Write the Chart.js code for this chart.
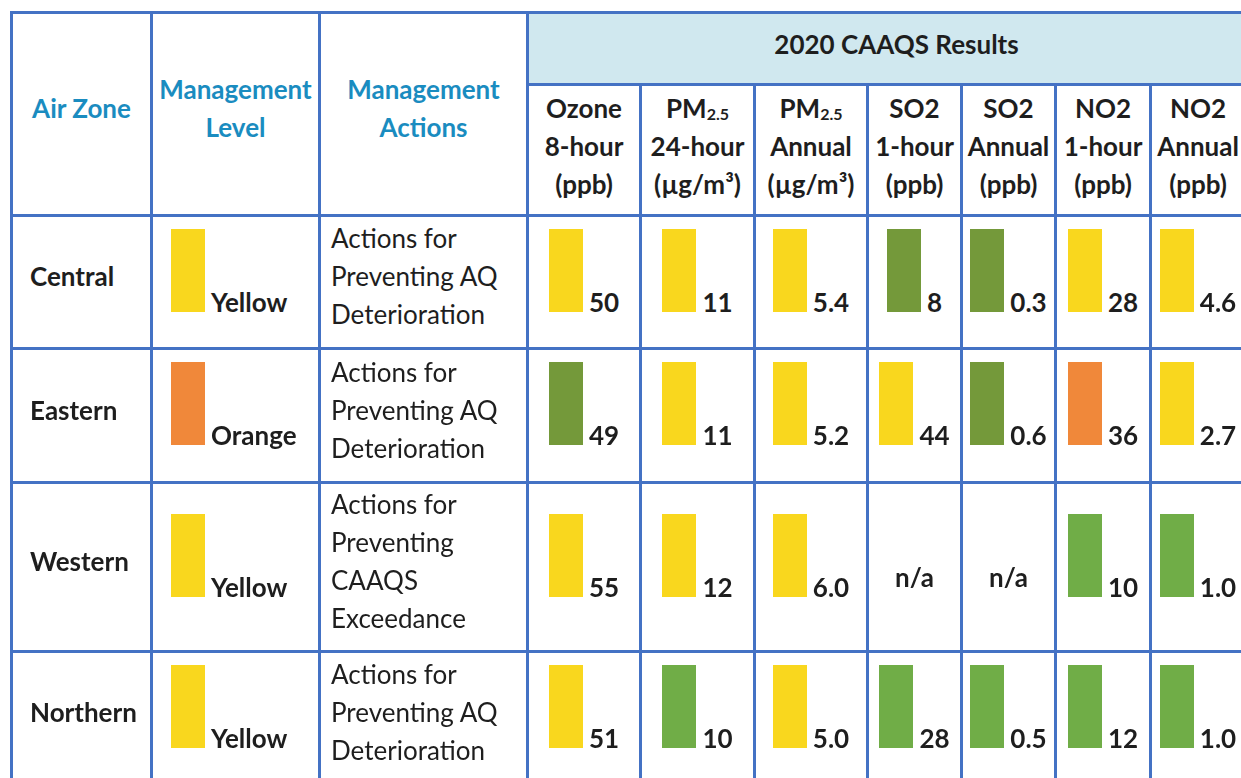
<!DOCTYPE html>
<html>
<head>
<meta charset="utf-8">
<script src="https://cdn.jsdelivr.net/npm/chart.js@4.4.0/dist/chart.umd.min.js"></script>
<style>
html, body { margin: 0; padding: 0; background: #fff; width: 1241px; height: 778px; overflow: hidden; }
table {
    position: absolute; left: 10px; top: 11px;
    border-collapse: collapse; table-layout: fixed;
    font-family: Lato, 'Open Sans', sans-serif; font-size: 26px; color: #1e1e1e;
}
td, th { border: 3px solid #4472c4; padding: 0; }
th { font-weight: bold; line-height: 38px; }
th.teal { color: #1a8cc0; white-space: nowrap; padding-bottom: 12px; }
th.banner { background: #d0e8ef; padding: 0 0 10px 20px; }
th.pol { padding-bottom: 8px; white-space: nowrap; }
.sub { font-size: 16px; position: relative; top: 2px; line-height: 0; }
td.zone { font-weight: bold; padding: 0 0 12px 17px; white-space: nowrap; }
td.action { line-height: 38px; padding: 0 0 12px 10px; }
td.level { padding: 0 0 18px 18px; }
td.val { padding-bottom: 18px; }
.cell { display: flex; align-items: baseline; font-weight: bold; white-space: nowrap; }
td.val .cell { justify-content: center; }
.cell span { margin-left: 6px; }
.na { text-align: center; font-weight: bold; padding-top: 20px; }
canvas { display: block; }
</style>
</head>
<body>
<table id="tbl"></table>
<script>
// Table content
const zones = ['Central', 'Eastern', 'Western', 'Northern'];
const levels = ['Yellow', 'Orange', 'Yellow', 'Yellow'];
const actions = [
    'Actions for<br>Preventing AQ<br>Deterioration',
    'Actions for<br>Preventing AQ<br>Deterioration',
    'Actions for<br>Preventing<br>CAAQS<br>Exceedance',
    'Actions for<br>Preventing AQ<br>Deterioration'
];
const bannerTitle = '2020 CAAQS Results';
const polNames = ['Ozone', 'PM<span class="sub">2.5</span>', 'PM<span class="sub">2.5</span>', 'SO2', 'SO2', 'NO2', 'NO2'];
const polPeriods = ['8-hour', '24-hour', 'Annual', '1-hour', 'Annual', '1-hour', 'Annual'];
const polUnits = ['(ppb)', '(µg/m³)', '(µg/m³)', '(ppb)', '(ppb)', '(ppb)', '(ppb)'];

// Results per pollutant (rows follow zones)
const ozone8h = ['50', '49', '55', '51'];
const pm24h = ['11', '11', '12', '10'];
const pmAnnual = ['5.4', '5.2', '6.0', '5.0'];
const so21h = ['8', '44', null, '28'];
const so2Annual = ['0.3', '0.6', null, '0.5'];
const no21h = ['28', '36', '10', '12'];
const no2Annual = ['4.6', '2.7', '1.0', '1.0'];

// Status colour for each result
const ozone8hLvl = ['yellow', 'darkgreen', 'yellow', 'yellow'];
const pm24hLvl = ['yellow', 'yellow', 'yellow', 'green'];
const pmAnnualLvl = ['yellow', 'yellow', 'yellow', 'yellow'];
const so21hLvl = ['darkgreen', 'yellow', null, 'green'];
const so2AnnualLvl = ['darkgreen', 'darkgreen', null, 'green'];
const no21hLvl = ['yellow', 'orange', 'green', 'green'];
const no2AnnualLvl = ['yellow', 'yellow', 'green', 'green'];

const levelColors = {
    yellow: '#f9d71e',
    orange: '#f0883a',
    green: '#70ad47',
    darkgreen: '#74993a'
};

// Layout
const colWidths = [140, 168, 208, 113, 114, 113, 94, 94, 95, 95];
const rowHeights = [133, 134, 169, 133];
const blockW = 34, blockH = 83;

const results = [ozone8h, pm24h, pmAnnual, so21h, so2Annual, no21h, no2Annual];
const resultLvls = [ozone8hLvl, pm24hLvl, pmAnnualLvl, so21hLvl, so2AnnualLvl, no21hLvl, no2AnnualLvl];

const tbl = document.getElementById('tbl');
tbl.style.width = colWidths.reduce((a, b) => a + b, 0) + 'px';
let html = '<colgroup>' + colWidths.map(w => `<col style="width:${w}px">`).join('') + '</colgroup>';
html += '<tr style="height:72px">' +
    '<th class="teal" rowspan="2">Air Zone</th>' +
    '<th class="teal" rowspan="2">Management<br>Level</th>' +
    '<th class="teal" rowspan="2">Management<br>Actions</th>' +
    `<th class="banner" colspan="7">${bannerTitle}</th></tr>`;
html += '<tr style="height:131px">' + polNames.map((n, i) =>
    `<th class="pol">${n}<br>${polPeriods[i]}<br>${polUnits[i]}</th>`).join('') + '</tr>';

const blocks = [];
zones.forEach((z, r) => {
    html += `<tr style="height:${rowHeights[r]}px">`;
    html += `<td class="zone">${z}</td>`;
    html += `<td class="level"><div class="cell"><canvas id="lv${r}"></canvas><span>${levels[r]}</span></div></td>`;
    blocks.push([`lv${r}`, levels[r].toLowerCase()]);
    html += `<td class="action">${actions[r]}</td>`;
    results.forEach((vals, c) => {
        if (vals[r] === null) {
            html += '<td class="na">n/a</td>';
        } else {
            html += `<td class="val"><div class="cell"><canvas id="b${r}_${c}"></canvas><span>${vals[r]}</span></div></td>`;
            blocks.push([`b${r}_${c}`, resultLvls[c][r]]);
        }
    });
    html += '</tr>';
});
tbl.innerHTML = html;

// Each status block is a one-bar chart filling its canvas
function drawBlock(id, level) {
    const canvas = document.getElementById(id);
    canvas.width = blockW;
    canvas.height = blockH;
    new Chart(canvas, {
        type: 'bar',
        data: {
            labels: [level],
            datasets: [{
                data: [1],
                backgroundColor: levelColors[level],
                borderWidth: 0,
                barPercentage: 1,
                categoryPercentage: 1
            }]
        },
        options: {
            responsive: false,
            animation: false,
            events: [],
            layout: { padding: 0 },
            plugins: { legend: { display: false }, tooltip: { enabled: false } },
            scales: {
                x: { display: false },
                y: { display: false, min: 0, max: 1 }
            }
        }
    });
}

blocks.forEach(b => drawBlock(b[0], b[1]));
</script>
</body>
</html>
